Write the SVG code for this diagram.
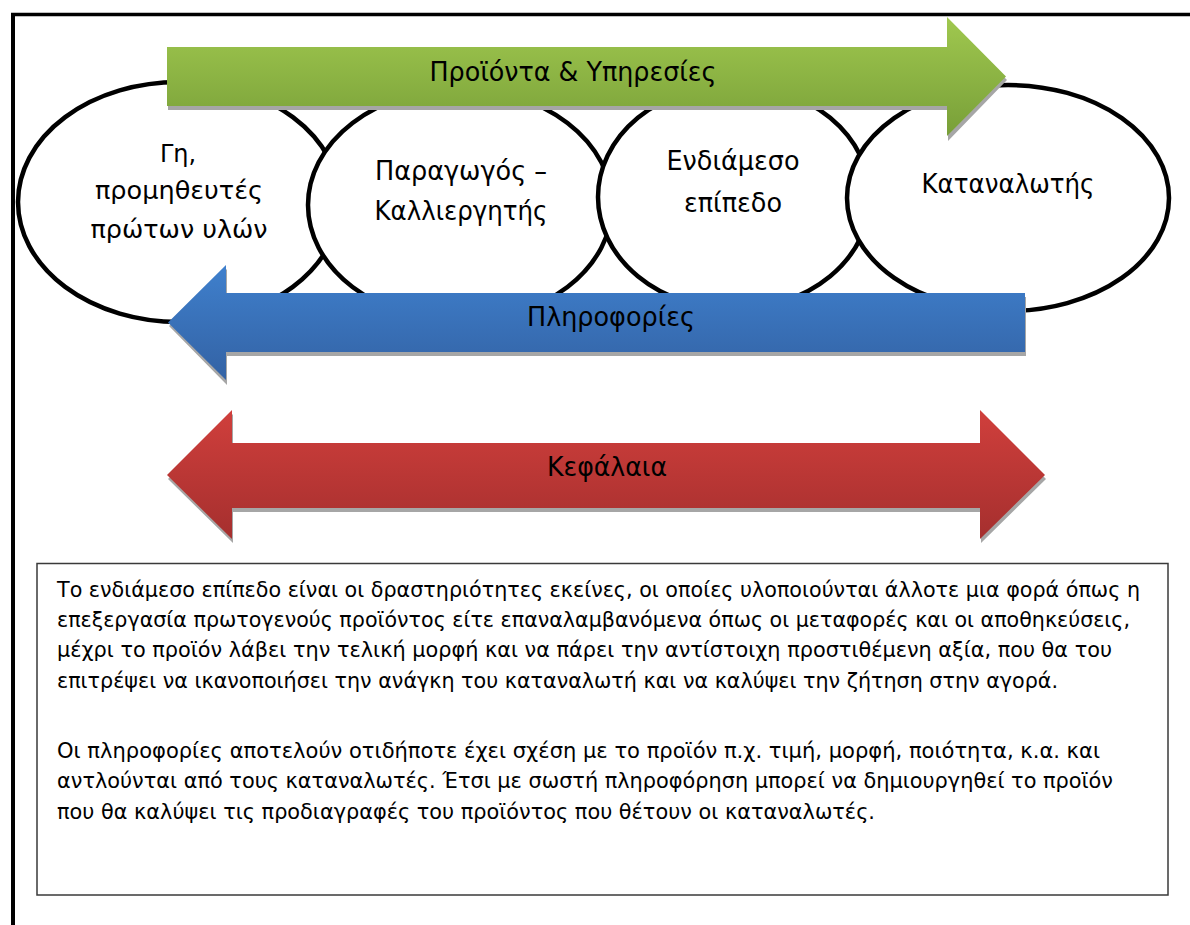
<svg xmlns="http://www.w3.org/2000/svg" width="1190" height="925" viewBox="0 0 1190 925">
  <style>
    .stage { fill: #ffffff; stroke: #000000; stroke-width: 4.5; }
    .lbl { font-family: "DejaVu Sans", Tahoma, "Liberation Sans", sans-serif; font-size: 26px; fill: #000000; text-anchor: middle; }
    .lbl-s { font-size: 24px; }
    .body { font-family: "DejaVu Sans", Tahoma, "Liberation Sans", sans-serif; font-size: 21.5px; fill: #000000; }
    .shadow { fill: #a6a6a6; }
    .frame { stroke: #000000; fill: none; }
  </style>
  <defs>
    <linearGradient id="gGreen" x1="0" y1="0" x2="0" y2="1">
      <stop offset="0" stop-color="#a0c84f"/>
      <stop offset="1" stop-color="#789f38"/>
    </linearGradient>
    <linearGradient id="gBlue" x1="0" y1="0" x2="0" y2="1">
      <stop offset="0" stop-color="#3f80cd"/>
      <stop offset="1" stop-color="#3362a4"/>
    </linearGradient>
    <linearGradient id="gRed" x1="0" y1="0" x2="0" y2="1">
      <stop offset="0" stop-color="#d03f3c"/>
      <stop offset="1" stop-color="#a52f2e"/>
    </linearGradient>
  </defs>

  <!-- page frame (top and left rules) -->
  <line class="frame" x1="11" y1="14.5" x2="1190" y2="14.5" stroke-width="3.5"/>
  <line class="frame" x1="13" y1="13" x2="13" y2="925" stroke-width="4"/>

  <!-- supply-chain stages -->
  <g id="stage-land">
    <ellipse class="stage" cx="179" cy="202" rx="161" ry="120"/>
    <text class="lbl lbl-s" x="178" y="162">Γη,</text>
    <text class="lbl lbl-s" x="179" y="199" textLength="168" lengthAdjust="spacingAndGlyphs">προμηθευτές</text>
    <text class="lbl lbl-s" x="179" y="238" textLength="177" lengthAdjust="spacingAndGlyphs">πρώτων υλών</text>
  </g>
  <g id="stage-producer">
    <ellipse class="stage" cx="460" cy="205" rx="152" ry="116"/>
    <text class="lbl" x="461" y="180" textLength="172" lengthAdjust="spacingAndGlyphs">Παραγωγός –</text>
    <text class="lbl" x="461" y="220" textLength="173" lengthAdjust="spacingAndGlyphs">Καλλιεργητής</text>
  </g>
  <g id="stage-intermediate">
    <ellipse class="stage" cx="734" cy="197" rx="136" ry="112"/>
    <text class="lbl" x="733" y="170" textLength="133" lengthAdjust="spacingAndGlyphs">Ενδιάμεσο</text>
    <text class="lbl" x="733" y="212" textLength="98" lengthAdjust="spacingAndGlyphs">επίπεδο</text>
  </g>
  <g id="stage-consumer">
    <ellipse class="stage" cx="1008" cy="198" rx="161" ry="113"/>
    <text class="lbl" x="1008" y="193" textLength="173" lengthAdjust="spacingAndGlyphs">Καταναλωτής</text>
  </g>

  <!-- flows between the stages -->
  <g id="flows">
    <g id="flow-products">
      <polygon class="shadow" points="168,51 948,51 948,21 1007,80 948,141 948,110 168,110"/>
      <polygon fill="url(#gGreen)" points="167,47 947,47 947,17 1006,76.5 947,136 947,106 167,106"/>
      <text class="lbl" x="573" y="81" textLength="287" lengthAdjust="spacingAndGlyphs">Προϊόντα &amp; Υπηρεσίες</text>
    </g>
    <g id="flow-information">
      <polygon class="shadow" points="1026,297 227,297 227,269 169,326 227,385 227,356 1026,356"/>
      <polygon fill="url(#gBlue)" points="1025,293 226,293 226,265 168,322.5 226,380 226,352 1025,352"/>
      <text class="lbl" x="611" y="326" textLength="168" lengthAdjust="spacingAndGlyphs">Πληροφορίες</text>
    </g>
    <g id="flow-capital">
      <polygon class="shadow" points="168,479 233,414 233,447 981,447 981,414 1046,479 981,543 981,512 233,512 233,543"/>
      <polygon fill="url(#gRed)" points="167,475 232,410 232,443 980,443 980,410 1045,475 980,539 980,508 232,508 232,539"/>
      <text class="lbl" x="607" y="476" textLength="120" lengthAdjust="spacingAndGlyphs">Κεφάλαια</text>
    </g>
  </g>

  <!-- explanatory note -->
  <g id="note">
    <rect x="37" y="563.5" width="1131" height="331.5" fill="#ffffff" stroke="#3a3a3a" stroke-width="1.5"/>
    <text class="body" x="57" y="597" textLength="1083" lengthAdjust="spacingAndGlyphs">Το ενδιάμεσο επίπεδο είναι οι δραστηριότητες εκείνες, οι οποίες υλοποιούνται άλλοτε μια φορά όπως η</text>
    <text class="body" x="57" y="627" textLength="1073" lengthAdjust="spacingAndGlyphs">επεξεργασία πρωτογενούς προϊόντος είτε επαναλαμβανόμενα όπως οι μεταφορές και οι αποθηκεύσεις,</text>
    <text class="body" x="57" y="657" textLength="1055" lengthAdjust="spacingAndGlyphs">μέχρι το προϊόν λάβει την τελική μορφή και να πάρει την αντίστοιχη προστιθέμενη αξία, που θα του</text>
    <text class="body" x="57" y="688" textLength="1001" lengthAdjust="spacingAndGlyphs">επιτρέψει να ικανοποιήσει την ανάγκη του καταναλωτή και να καλύψει την ζήτηση στην αγορά.</text>
    <text class="body" x="57" y="758" textLength="1043" lengthAdjust="spacingAndGlyphs">Οι πληροφορίες αποτελούν οτιδήποτε έχει σχέση με το προϊόν π.χ. τιμή, μορφή, ποιότητα, κ.α. και</text>
    <text class="body" x="57" y="788" textLength="1056" lengthAdjust="spacingAndGlyphs">αντλούνται από τους καταναλωτές. Έτσι με σωστή πληροφόρηση μπορεί να δημιουργηθεί το προϊόν</text>
    <text class="body" x="57" y="819" textLength="818" lengthAdjust="spacingAndGlyphs">που θα καλύψει τις προδιαγραφές του προϊόντος που θέτουν οι καταναλωτές.</text>
  </g>
</svg>
